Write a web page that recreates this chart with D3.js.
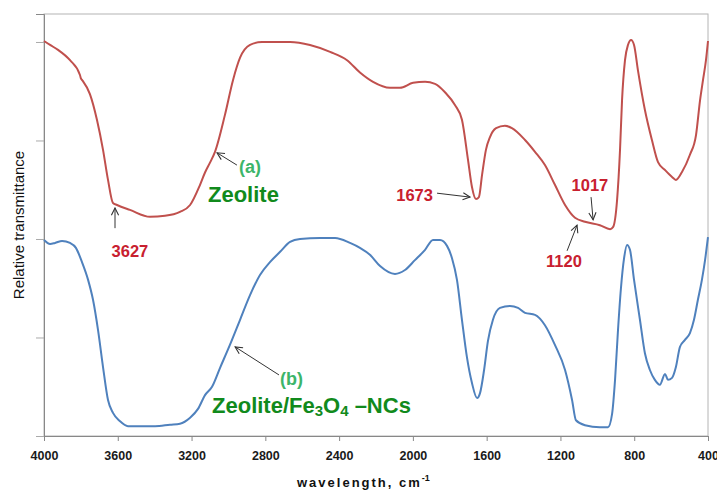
<!DOCTYPE html>
<html><head><meta charset="utf-8">
<script src="https://cdn.jsdelivr.net/npm/d3@7"></script>
<style>
html,body{margin:0;padding:0;background:#fff;}
svg{display:block;font-family:"Liberation Sans",Arial,sans-serif;}
</style></head>
<body>
<svg id="chart" width="717" height="490"></svg>
<script>
// ---- data ----
const xTicks = [4000, 3600, 3200, 2800, 2400, 2000, 1600, 1200, 800, 400];
const yTicks = [0, 20, 40, 60, 80];

// (a) Zeolite : [wavenumber, relative transmittance]
const zeoliteWave = [4000,3967,3924,3859,3805,3800,3794,3751,3713,3680,3653,3626,3604,3534,3425,3344,3263,3208,3154,3127,3100,3073,3019,2975,2937,2883,2818,2666,2558,2449,2357,2287,2216,2124,2070,1999,1934,1880,1826,1772,1734,1701,1680,1658,1642,1625,1604,1582,1549,1501,1463,1392,1338,1284,1230,1175,1121,1067,986,931,915,893,877,866,850,834,817,801,780,742,704,671,633,595,574,541,498,465,443,427,411,400];
const zeoliteT    = [80.2,79.4,78.4,76.3,73.3,72.6,72.3,69.4,64.2,58.1,52.0,47.3,46.9,45.9,44.5,44.7,45.5,46.9,51.0,53.5,55.5,57.7,65.2,72.3,76.8,79.4,80.0,80.0,79.4,78.0,76.3,73.8,71.9,70.7,70.7,71.7,71.9,71.5,69.8,67.2,64.2,56.0,50.6,48.1,48.5,53.0,58.1,60.7,62.5,63.0,62.5,60.1,57.7,55.0,51.0,46.9,44.3,43.5,42.8,42.0,42.4,47.9,58.1,68.2,76.3,79.4,80.4,79.4,74.3,66.2,60.1,55.6,54.0,52.6,52.0,53.6,57.1,61.1,68.2,72.3,76.3,80.2];

// (b) Zeolite/Fe3O4-NCs
const compositeWave = [4000,3967,3940,3902,3859,3827,3794,3761,3734,3707,3680,3653,3626,3588,3545,3480,3398,3317,3263,3208,3165,3127,3089,3046,2992,2937,2883,2829,2775,2720,2666,2612,2504,2422,2341,2287,2233,2178,2097,2043,1989,1934,1891,1853,1815,1788,1761,1734,1707,1680,1652,1636,1614,1593,1566,1528,1474,1430,1392,1338,1284,1230,1175,1137,1116,1067,986,942,920,904,888,872,855,839,823,801,769,742,715,688,661,633,617,595,574,552,525,498,476,455,433,416,400];
const compositeT    = [39.8,39.0,39.2,39.6,39.2,38.2,35.3,31.7,27.6,21.5,14.0,7.3,4.7,3.0,2.0,2.0,2.0,2.3,2.5,3.7,5.5,8.3,10.0,13.8,18.5,23.6,28.6,32.7,35.3,37.4,39.4,40.0,40.2,40.2,39.2,38.2,36.8,34.5,32.9,33.7,35.7,37.8,39.8,39.8,38.6,36.1,31.7,23.6,16.0,10.8,7.7,8.7,13.4,19.3,23.6,26.0,26.4,26.0,25.0,24.6,22.5,18.5,13.4,7.3,3.2,2.2,1.8,1.8,4.5,11.4,21.5,30.0,36.1,38.8,37.8,31.7,23.6,16.8,13.4,11.4,10.4,12.6,11.4,11.8,14.0,18.1,19.5,20.9,23.6,27.6,31.7,35.7,40.4];

// peak annotations: label, tip point, tail point, label point (wavenumber, T)
const peakLabels = ["3627", "1673", "1017", "1120"];
const peakTip    = [[3615,46.3],[1690,48.5],[1023,43.9],[1110,42.8]];
const peakTail   = [[3615,42.2],[1869,49.3],[1034,48.5],[1164,37.6]];
const peakText   = [[3534,36.3],[1891,47.7],[1040,49.7],[1181,34.3]];

// ---- layout ----
const svg = d3.select("#chart");
const m = {left:44, right:9, top:14, bottom:54};
const W = 717, H = 490;
const x = d3.scaleLinear().domain([4000, 400]).range([m.left, W - m.right]);
const y = d3.scaleLinear().domain([0, 85.68]).range([H - m.bottom, m.top]);

const red = "#c0504d", blue = "#4f81bd";
const lblRed = "#c8202f", lightGreen = "#3cb56a", darkGreen = "#118a1c";

// plot border (top/right)
svg.append("rect").attr("x", x(4000)).attr("y", y(85.68))
  .attr("width", x(400) - x(4000)).attr("height", y(0) - y(85.68))
  .attr("fill", "none").attr("stroke", "#b4b4b4").attr("stroke-width", 1);

// axes
const xAxis = d3.axisBottom(x).tickValues(xTicks).tickSize(5).tickFormat(d3.format("d"));
const gx = svg.append("g").attr("transform", `translate(0,${y(0)})`).call(xAxis);
gx.select(".domain").attr("stroke", "#888");
gx.selectAll(".tick line").attr("stroke", "#888");
gx.selectAll(".tick text").attr("font-size", "12.5px").attr("font-weight", "bold")
  .attr("fill", "#1a1a1a").attr("dy", "1.25em");

const yAxis = d3.axisLeft(y).tickValues(yTicks).tickSize(8).tickFormat("");
const gy = svg.append("g").attr("transform", `translate(${x(4000)},0)`).call(yAxis);
gy.select(".domain").attr("stroke", "#888");
gy.selectAll(".tick line").attr("stroke", "#aaa");

// axis titles
const xt = svg.append("text").attr("x", 297).attr("y", 487)
  .attr("font-size", "13px").attr("font-weight", "bold").attr("letter-spacing", "2px").attr("fill", "#111");
xt.append("tspan").text("wavelength,  cm");
xt.append("tspan").attr("font-size", "9px").attr("dy", "-6").attr("letter-spacing","0px").text("-1");

svg.append("text").attr("transform", `translate(24,${(y(0)+y(85.68))/2}) rotate(-90)`)
  .attr("text-anchor", "middle").attr("font-size", "15px").attr("fill", "#111")
  .text("Relative transmittance");

// lines
const line = d3.line().x(d => x(d[0])).y(d => y(d[1])).curve(d3.curveMonotoneX);
svg.append("path").datum(zeoliteWave.map((w,i)=>[w, zeoliteT[i]]))
  .attr("d", line).attr("fill","none").attr("stroke", red).attr("stroke-width", 2);
svg.append("path").datum(compositeWave.map((w,i)=>[w, compositeT[i]]))
  .attr("d", line).attr("fill","none").attr("stroke", blue).attr("stroke-width", 2);

// arrow marker
svg.append("defs").append("marker").attr("id","arr").attr("viewBox","0 0 10 10")
  .attr("refX", 9).attr("refY", 5).attr("markerWidth", 9).attr("markerHeight", 9)
  .attr("markerUnits","userSpaceOnUse").attr("orient","auto")
  .append("path").attr("d","M1,1 L9,5 L1,9").attr("fill","none").attr("stroke","#333").attr("stroke-width",1.2);

function arrow(tail, tip){
  svg.append("line").attr("x1", x(tail[0])).attr("y1", y(tail[1]))
    .attr("x2", x(tip[0])).attr("y2", y(tip[1]))
    .attr("stroke","#333").attr("stroke-width",1).attr("marker-end","url(#arr)");
}

// peak labels
peakLabels.forEach((t,i) => {
  arrow(peakTail[i], peakTip[i]);
  svg.append("text").attr("x", x(peakText[i][0])).attr("y", y(peakText[i][1]))
    .attr("text-anchor", i === 1 ? "end" : "middle")
    .attr("font-size","16.5px").attr("font-weight","bold").attr("fill", lblRed).text(t);
});

// sample labels
arrow([2954, 55.0], [3062, 57.5]);
svg.append("text").attr("x", x(2943)).attr("y", y(53.4)).attr("font-size","18px")
  .attr("font-weight","bold").attr("fill", lightGreen).text("(a)");
svg.append("text").attr("x", x(3111)).attr("y", y(47.5)).attr("font-size","22px")
  .attr("font-weight","bold").attr("fill", darkGreen).text("Zeolite");

arrow([2726, 12.4], [2964, 18.1]);
svg.append("text").attr("x", x(2720)).attr("y", y(10.4)).attr("font-size","18px")
  .attr("font-weight","bold").attr("fill", lightGreen).text("(b)");
const nc = svg.append("text").attr("x", x(3089)).attr("y", y(4.7)).attr("font-size","22px")
  .attr("font-weight","bold").attr("fill", darkGreen);
nc.append("tspan").text("Zeolite/Fe");
nc.append("tspan").attr("font-size","15px").attr("dy","3").text("3");
nc.append("tspan").attr("dy","-3").text("O");
nc.append("tspan").attr("font-size","15px").attr("dy","3").text("4");
nc.append("tspan").attr("dy","-3").text(" \u2013NCs");
</script>
</body></html>
